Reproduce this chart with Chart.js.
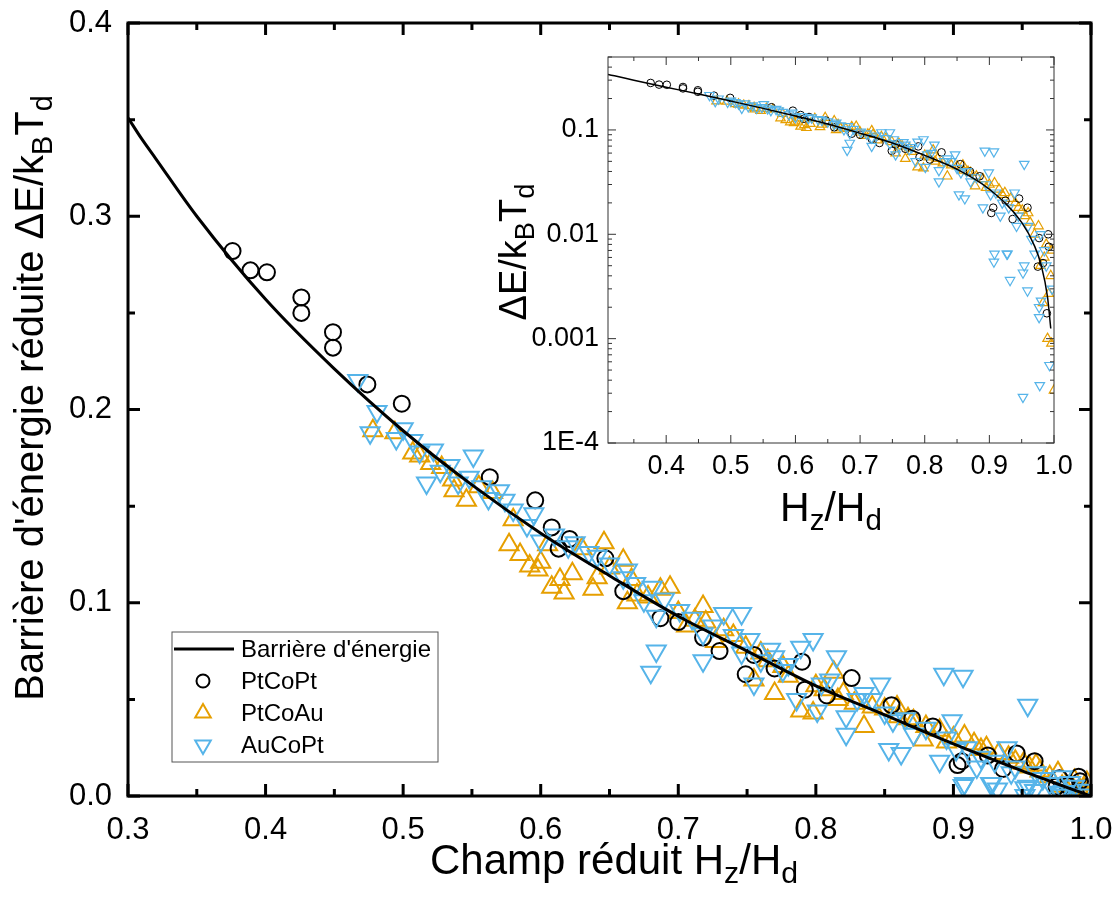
<!DOCTYPE html>
<html lang="fr">
<head>
<meta charset="UTF-8">
<title>Barrière d'énergie réduite</title>
<script src="https://cdn.jsdelivr.net/npm/chart.js"></script>
<style>
  body { margin: 0; background: #fff; }
  #wrap { position: relative; width: 1115px; height: 916px; }
  #mainChart { position: absolute; left: 0; top: 0; }
  #insetChart { position: absolute; left: 480px; top: 40px; }
</style>
</head>
<body>
<div id="wrap">
  <canvas id="mainChart" width="1115" height="916"></canvas>
  <canvas id="insetChart" width="620" height="500"></canvas>
</div>
<script>
const FONT = "'Liberation Sans', Arial, sans-serif";
const ORANGE = '#E69F00';
const BLUE = '#56B4E9';

// ticks
const mainXTicks = [0.3, 0.4, 0.5, 0.6, 0.7, 0.8, 0.9, 1.0];
const mainXMinor = [0.35, 0.45, 0.55, 0.65, 0.75, 0.85, 0.95];
const mainYTicks = [0, 0.1, 0.2, 0.3, 0.4];
const mainYMinor = [0.05, 0.15, 0.25, 0.35];
const insetXTicks = [0.4, 0.5, 0.6, 0.7, 0.8, 0.9, 1.0];
const insetXMinor = [0.35, 0.45, 0.55, 0.65, 0.75, 0.85, 0.95];
const insetYTicks = [1e-4, 1e-3, 1e-2, 1e-1];
const insetYLabels = ['1E-4', '0.001', '0.01', '0.1'];

// barrier curve
const barrierX = [0.30, 0.31, 0.32, 0.35, 0.40, 0.45, 0.50, 0.55, 0.60, 0.65, 0.70, 0.75, 0.80, 0.85, 0.90, 0.95, 0.97, 0.98, 0.99, 0.995, 1.0];
const barrierY = [0.351, 0.340, 0.330, 0.300, 0.257, 0.221, 0.189, 0.161, 0.136, 0.114, 0.093, 0.075, 0.057, 0.042, 0.027, 0.013, 0.0077, 0.0051, 0.0025, 0.00125, 0];

// PtCoPt (black circles)
const ptcoptX = [0.376, 0.389, 0.401, 0.426, 0.426, 0.449, 0.449, 0.474, 0.499, 0.563, 0.596, 0.608, 0.621, 0.647, 0.660,
  0.687, 0.730, 0.749, 0.755, 0.790, 0.792, 0.826, 0.855, 0.903, 0.906, 0.936, 0.946, 0.959, 0.975, 0.977, 0.983, 0.989, 0.991, 0.992,
  0.613, 0.700, 0.718, 0.770, 0.808, 0.870, 0.885, 0.925];
const ptcoptY = [0.282, 0.272, 0.271, 0.258, 0.250, 0.240, 0.232, 0.213, 0.203, 0.165, 0.153, 0.139, 0.133, 0.123, 0.106,
  0.092, 0.075, 0.063, 0.073, 0.0695, 0.055, 0.061, 0.047, 0.016, 0.018, 0.014, 0.022, 0.018, 0.0049, 0.0092, 0.0053, 0.00175, 0.010, 0.0076,
  0.128, 0.090, 0.082, 0.066, 0.052, 0.040, 0.036, 0.021];

// PtCoAu (orange up triangles)
const ptcoauX = [0.478, 0.494, 0.507, 0.520, 0.536, 0.537, 0.546, 0.565, 0.577, 0.580, 0.585, 0.592, 0.598, 0.600, 0.608,
  0.614, 0.617, 0.623, 0.630, 0.638, 0.641, 0.646, 0.650, 0.660, 0.663, 0.666, 0.687, 0.694, 0.700, 0.706, 0.718, 0.720,
  0.733, 0.740, 0.749, 0.755, 0.760, 0.770, 0.776, 0.780, 0.789, 0.798, 0.800, 0.813, 0.816, 0.820, 0.835, 0.841, 0.850,
  0.859, 0.860, 0.871, 0.878, 0.880, 0.890, 0.900, 0.908, 0.915, 0.924, 0.933, 0.940, 0.951, 0.960, 0.963, 0.970, 0.976,
  0.979, 0.983, 0.985, 0.988, 0.990, 0.992, 0.995, 0.996, 0.997, 1.0,
  0.512, 0.528, 0.555, 0.605, 0.670, 0.678, 0.712, 0.727, 0.765, 0.806, 0.828, 0.867, 0.895, 0.920, 0.945, 0.955];
const ptcoauY = [0.189, 0.188, 0.1775, 0.172, 0.1635, 0.158, 0.153, 0.157, 0.130, 0.143, 0.125, 0.119, 0.117, 0.121, 0.108,
  0.112, 0.105, 0.115, 0.128, 0.107, 0.113, 0.131, 0.118, 0.122, 0.100, 0.112, 0.107, 0.108, 0.095, 0.088, 0.098, 0.090,
  0.086, 0.083, 0.077, 0.060, 0.074, 0.053, 0.067, 0.062, 0.044, 0.043, 0.057, 0.064, 0.050, 0.053, 0.036, 0.046, 0.045,
  0.046, 0.041, 0.039, 0.029, 0.036, 0.034, 0.030, 0.031, 0.027, 0.025, 0.022, 0.020, 0.017, 0.016, 0.013, 0.010, 0.012,
  0.005, 0.0022, 0.006, 0.008, 0.001, 0.0027, 0.004, 0.0009, 0.007, 0.00032,
  0.176, 0.170, 0.160, 0.130, 0.104, 0.103, 0.091, 0.080, 0.070, 0.055, 0.048, 0.040, 0.028, 0.024, 0.018, 0.015];

// AuCoPt (blue down triangles)
const aucoptX = [0.467, 0.481, 0.476, 0.495, 0.500, 0.507, 0.512, 0.517, 0.522, 0.527, 0.534, 0.540, 0.548, 0.551, 0.557,
  0.562, 0.570, 0.574, 0.580, 0.590, 0.595, 0.600, 0.610, 0.620, 0.625, 0.635, 0.641, 0.650, 0.660, 0.663, 0.669, 0.675,
  0.680, 0.681, 0.684, 0.684, 0.690, 0.701, 0.710, 0.718, 0.718, 0.725, 0.733, 0.740, 0.746, 0.746, 0.752, 0.755, 0.760,
  0.767, 0.770, 0.776, 0.780, 0.786, 0.789, 0.798, 0.801, 0.804, 0.810, 0.815, 0.822, 0.822, 0.830, 0.835, 0.841, 0.847,
  0.850, 0.853, 0.856, 0.862, 0.865, 0.871, 0.880, 0.890, 0.893, 0.895, 0.899, 0.902, 0.907, 0.907, 0.908, 0.910, 0.917,
  0.920, 0.927, 0.928, 0.930, 0.932, 0.939, 0.942, 0.945, 0.952, 0.952, 0.954, 0.954, 0.959, 0.960, 0.965, 0.970, 0.977,
  0.977, 0.978, 0.979, 0.980, 0.985, 0.988, 0.993, 0.997];
const aucoptY = [0.215, 0.199, 0.188, 0.185, 0.190, 0.184, 0.178, 0.162, 0.179, 0.168, 0.171, 0.162, 0.165, 0.176, 0.160,
  0.154, 0.158, 0.153, 0.148, 0.140, 0.146, 0.132, 0.135, 0.129, 0.131, 0.126, 0.124, 0.120, 0.113, 0.117, 0.110, 0.101,
  0.064, 0.108, 0.093, 0.075, 0.102, 0.096, 0.092, 0.084, 0.070, 0.088, 0.0945, 0.083, 0.0945, 0.074, 0.081, 0.058, 0.070,
  0.076, 0.072, 0.065, 0.068, 0.050, 0.077, 0.081, 0.044, 0.058, 0.060, 0.072, 0.041, 0.032, 0.050, 0.053, 0.050, 0.058,
  0.043, 0.024, 0.039, 0.022, 0.040, 0.032, 0.035, 0.018, 0.063, 0.030, 0.039, 0.024, 0.062, 0.00545, 0.0065, 0.025, 0.015,
  0.020, 0.0065, 0.0065, 0.018, 0.00363, 0.025, 0.012, 0.015, 0.00428, 0.000275, 0.047, 0.005, 0.00288, 0.012, 0.009, 0.0065, 0.0016,
  0.002, 0.000357, 0.010, 0.0023, 0.007, 0.005, 0.000556, 0.003];

function pts(xs, ys) { return xs.map((x, i) => ({ x: x, y: ys[i] })); }

function richWidth(ctx, parts, size) {
  let w = 0;
  parts.forEach(p => {
    ctx.font = (p.sub ? size * 0.72 : size) + 'px ' + FONT;
    w += ctx.measureText(p.t).width;
  });
  return w;
}
function drawRich(ctx, parts, x, y, size) {
  let cx = x - richWidth(ctx, parts, size) / 2;
  ctx.textAlign = 'left';
  ctx.textBaseline = 'alphabetic';
  parts.forEach(p => {
    const s = p.sub ? size * 0.72 : size;
    ctx.font = s + 'px ' + FONT;
    ctx.fillText(p.t, cx, y + (p.sub ? size * 0.22 : 0));
    cx += ctx.measureText(p.t).width;
  });
}

// frame with inward ticks on all four sides
const frame = {
  id: 'frame',
  afterDatasetsDraw(chart, args, o) {
    const ctx = chart.ctx, a = chart.chartArea;
    const xs = chart.scales.x, ys = chart.scales.y;
    ctx.save();
    ctx.strokeStyle = o.color;
    ctx.lineWidth = o.width;
    ctx.beginPath();
    const xt = (v, len) => {
      const p = xs.getPixelForValue(v);
      ctx.moveTo(p, a.bottom); ctx.lineTo(p, a.bottom - len);
      ctx.moveTo(p, a.top); ctx.lineTo(p, a.top + len);
    };
    const yt = (v, len) => {
      const p = ys.getPixelForValue(v);
      ctx.moveTo(a.left, p); ctx.lineTo(a.left + len, p);
      ctx.moveTo(a.right, p); ctx.lineTo(a.right - len, p);
    };
    o.xMajor.forEach(v => xt(v, o.major));
    o.xMinor.forEach(v => xt(v, o.minor));
    o.yMajor.forEach(v => yt(v, o.major));
    o.yMinor.forEach(v => yt(v, o.minor));
    ctx.stroke();
    ctx.strokeRect(a.left, a.top, a.right - a.left, a.bottom - a.top);
    ctx.restore();
  }
};

// axis titles with subscripts
const titles = {
  id: 'titles',
  afterDraw(chart, args, o) {
    const ctx = chart.ctx;
    ctx.save();
    ctx.fillStyle = '#000';
    drawRich(ctx, o.x.parts, o.x.cx, o.x.cy, o.x.size);
    ctx.translate(o.y.cx, o.y.cy);
    ctx.rotate(-Math.PI / 2);
    drawRich(ctx, o.y.parts, 0, 0, o.y.size);
    ctx.restore();
  }
};

function marker(ctx, style, x, y, r) {
  ctx.beginPath();
  if (style === 'circle') {
    ctx.arc(x, y, r, 0, Math.PI * 2);
  } else {
    const s = style === 'up' ? 1 : -1;
    for (let k = 0; k < 3; k++) {
      const ang = k * 2 * Math.PI / 3;
      const px = x + Math.sin(ang) * r, py = y - s * Math.cos(ang) * r;
      if (k === 0) ctx.moveTo(px, py); else ctx.lineTo(px, py);
    }
    ctx.closePath();
  }
  ctx.stroke();
}

// legend box inside the main plot
const boxLegend = {
  id: 'boxLegend',
  afterDraw(chart, args, o) {
    const ctx = chart.ctx;
    ctx.save();
    ctx.strokeStyle = '#555';
    ctx.lineWidth = 1;
    ctx.strokeRect(o.left, o.top, o.width, o.height);
    ctx.font = o.size + 'px ' + FONT;
    ctx.textAlign = 'left';
    ctx.textBaseline = 'middle';
    o.items.forEach((it, i) => {
      const y = o.top + o.first + i * o.step;
      ctx.strokeStyle = it.color;
      if (it.kind === 'line') {
        ctx.lineWidth = 3;
        ctx.beginPath();
        ctx.moveTo(o.left + 2, y); ctx.lineTo(o.left + 62, y);
        ctx.stroke();
      } else {
        ctx.lineWidth = 2;
        marker(ctx, it.kind, o.left + 31, y, it.kind === 'circle' ? 6.5 : 9);
      }
      ctx.fillStyle = '#000';
      ctx.fillText(it.label, o.left + 69, y + 1);
    });
    ctx.restore();
  }
};

function tickFont(size) { return { family: FONT, size: size }; }
// keep the plot area where it is: no extra room for overhanging labels
function noPadX(s, h) { s.height = h; s.paddingLeft = 0; s.paddingRight = 0; }
function noPadY(s, w) { s.width = w; s.paddingTop = 0; s.paddingBottom = 0; }

new Chart(document.getElementById('mainChart'), {
  type: 'scatter',
  data: {
    datasets: [
      { label: "Barrière d'énergie", data: pts(barrierX, barrierY), showLine: true, borderColor: '#000', borderWidth: 3,
        pointRadius: 0, cubicInterpolationMode: 'monotone', order: 0 },
      { label: 'PtCoPt', data: pts(ptcoptX, ptcoptY), pointStyle: 'circle', pointRadius: 8, borderColor: '#000',
        backgroundColor: 'rgba(0,0,0,0)', pointBorderWidth: 2, order: 2 },
      { label: 'PtCoAu', data: pts(ptcoauX, ptcoauY), pointStyle: 'triangle', pointRadius: 11, borderColor: ORANGE,
        backgroundColor: 'rgba(0,0,0,0)', pointBorderWidth: 2, order: 3 },
      { label: 'AuCoPt', data: pts(aucoptX, aucoptY), pointStyle: 'triangle', rotation: 180, pointRadius: 11, borderColor: BLUE,
        backgroundColor: 'rgba(0,0,0,0)', pointBorderWidth: 2, order: 1 }
    ]
  },
  options: {
    responsive: false,
    animation: false,
    layout: { padding: { left: 0, top: 23, right: 24, bottom: 0 } },
    plugins: {
      legend: { display: false },
      tooltip: { enabled: false },
      frame: { color: '#000', width: 3, major: 12, minor: 7,
        xMajor: mainXTicks, xMinor: mainXMinor, yMajor: mainYTicks, yMinor: mainYMinor },
      titles: {
        x: { size: 42, cx: 614, cy: 874, parts: [{ t: 'Champ réduit H' }, { t: 'z', sub: true }, { t: '/H' }, { t: 'd', sub: true }] },
        y: { size: 40, cx: 43, cy: 398, parts: [{ t: "Barrière d'énergie réduite ΔE/k" }, { t: 'B', sub: true }, { t: 'T' }, { t: 'd', sub: true }] }
      },
      boxLegend: {
        left: 172, top: 632, width: 266, height: 130, first: 17, step: 32, size: 24,
        items: [
          { kind: 'line', color: '#000', label: "Barrière d'énergie" },
          { kind: 'circle', color: '#000', label: 'PtCoPt' },
          { kind: 'up', color: ORANGE, label: 'PtCoAu' },
          { kind: 'down', color: BLUE, label: 'AuCoPt' }
        ]
      }
    },
    scales: {
      x: {
        type: 'linear', min: 0.3, max: 1.0,
        grid: { display: false, drawTicks: false }, border: { display: false },
        afterFit: s => noPadX(s, 120),
        afterBuildTicks: s => { s.ticks = mainXTicks.map(v => ({ value: v })); },
        ticks: { autoSkip: false, maxRotation: 0, padding: 16, color: '#000', font: tickFont(31),
          callback: v => v.toFixed(1) }
      },
      y: {
        type: 'linear', min: 0, max: 0.4,
        grid: { display: false, drawTicks: false }, border: { display: false },
        afterFit: s => noPadY(s, 128),
        afterBuildTicks: s => { s.ticks = mainYTicks.map(v => ({ value: v })); },
        ticks: { autoSkip: false, padding: 16, color: '#000', font: tickFont(31),
          callback: v => v.toFixed(1) }
      }
    }
  },
  plugins: [frame, titles, boxLegend]
});

const insetLine = pts(barrierX, barrierY).filter(p => p.y > 0);

new Chart(document.getElementById('insetChart'), {
  type: 'scatter',
  data: {
    datasets: [
      { label: "Barrière d'énergie", data: insetLine, showLine: true, borderColor: '#000', borderWidth: 1.5,
        pointRadius: 0, cubicInterpolationMode: 'monotone', order: 0 },
      { label: 'PtCoPt', data: pts(ptcoptX, ptcoptY), pointStyle: 'circle', pointRadius: 3.8, borderColor: '#000',
        backgroundColor: 'rgba(0,0,0,0)', pointBorderWidth: 1, order: 2 },
      { label: 'PtCoAu', data: pts(ptcoauX, ptcoauY), pointStyle: 'triangle', pointRadius: 5.5, borderColor: ORANGE,
        backgroundColor: 'rgba(0,0,0,0)', pointBorderWidth: 1.2, order: 3 },
      { label: 'AuCoPt', data: pts(aucoptX, aucoptY), pointStyle: 'triangle', rotation: 180, pointRadius: 5.5, borderColor: BLUE,
        backgroundColor: 'rgba(0,0,0,0)', pointBorderWidth: 1.2, order: 1 }
    ]
  },
  options: {
    responsive: false,
    animation: false,
    layout: { padding: { left: 0, top: 17, right: 46, bottom: 0 } },
    plugins: {
      legend: { display: false },
      tooltip: { enabled: false },
      frame: { color: '#333', width: 1, major: 8, minor: 4,
        xMajor: insetXTicks, xMinor: insetXMinor, yMajor: insetYTicks,
        yMinor: insetYTicks.flatMap(d => [2, 3, 4, 5, 6, 7, 8, 9].map(m => m * d)).filter(v => v <= 0.5) },
      titles: {
        x: { size: 41, cx: 351, cy: 481, parts: [{ t: 'H' }, { t: 'z', sub: true }, { t: '/H' }, { t: 'd', sub: true }] },
        y: { size: 38, cx: 46, cy: 212, parts: [{ t: 'ΔE/k' }, { t: 'B', sub: true }, { t: 'T' }, { t: 'd', sub: true }] }
      }
    },
    scales: {
      x: {
        type: 'linear', min: 0.31, max: 1.0,
        grid: { display: false, drawTicks: false }, border: { display: false },
        afterFit: s => noPadX(s, 97),
        afterBuildTicks: s => { s.ticks = insetXTicks.map(v => ({ value: v })); },
        ticks: { autoSkip: false, maxRotation: 0, padding: 7, color: '#000', font: tickFont(27),
          callback: v => v.toFixed(1) }
      },
      y: {
        type: 'logarithmic', min: 1e-4, max: 0.5,
        grid: { display: false, drawTicks: false }, border: { display: false },
        afterFit: s => noPadY(s, 128),
        afterBuildTicks: s => { s.ticks = insetYTicks.map(v => ({ value: v })); },
        ticks: { autoSkip: false, padding: 9, color: '#000', font: tickFont(27),
          callback: v => insetYLabels[insetYTicks.indexOf(v)] }
      }
    }
  },
  plugins: [frame, titles]
});
</script>
</body>
</html>
